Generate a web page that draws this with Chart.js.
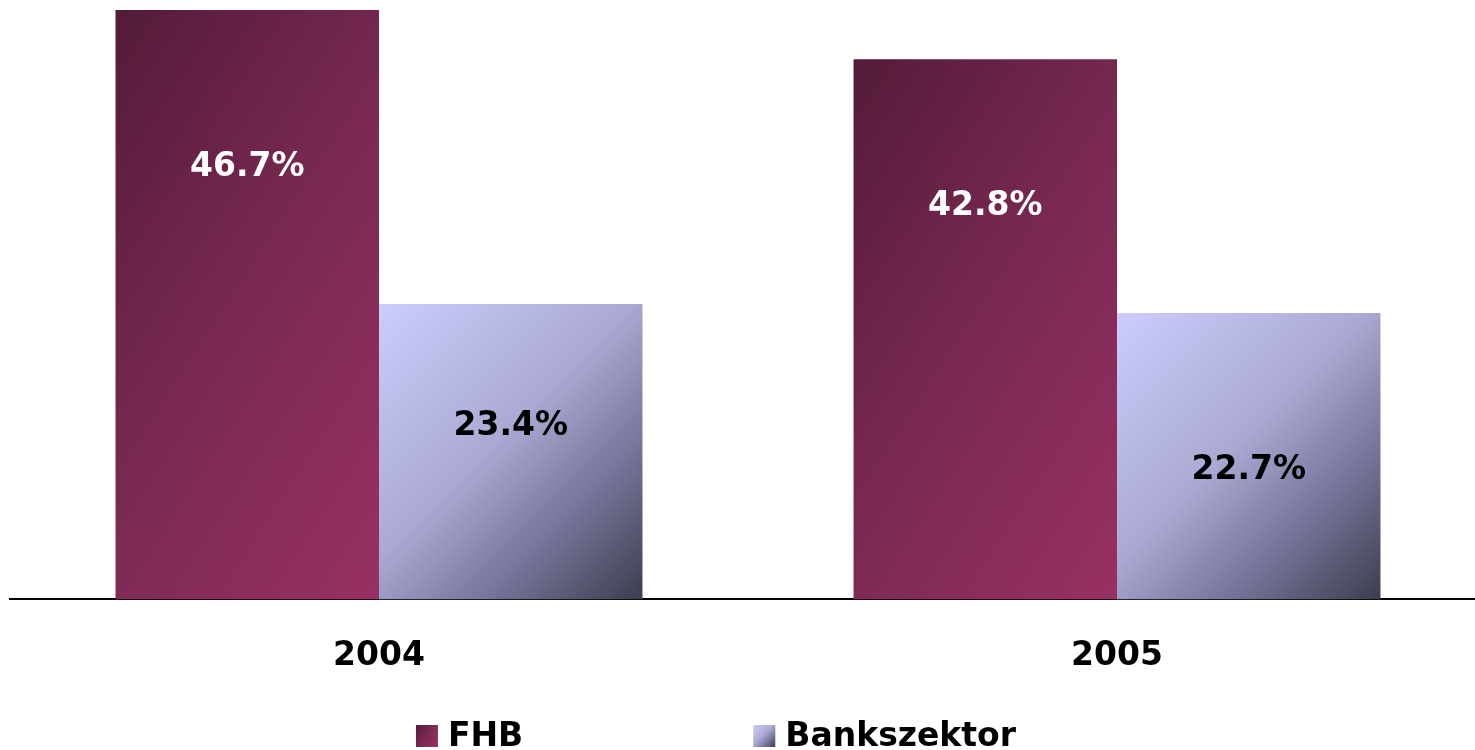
<!DOCTYPE html>
<html>
<head>
<meta charset="utf-8">
<script src="https://cdn.jsdelivr.net/npm/chart.js@4.4.1/dist/chart.umd.min.js"></script>
<style>
  html, body { margin: 0; padding: 0; background: #fff; overflow: hidden; width: 1475px; height: 750px; }
  #wrap { width: 1486px; height: 750px; }
</style>
</head>
<body>
<div id="wrap"><canvas id="c" width="1486" height="750"></canvas></div>
<script>
const categories = ['2004', '2005'];
const seriesNames = ['FHB', 'Bankszektor'];
const fhbValues = [46.7, 42.8];
const bankValues = [23.4, 22.7];
const valueLabels = [['46.7%', '42.8%'], ['23.4%', '22.7%']];

const FONT = '"DejaVu Sans", sans-serif';

// gradient definitions per series: angle (deg) and colour stops
const gradDefs = [
  { angle: 33, stops: [[0, '#541b39'], [0.5, '#7a2953'], [1, '#983064']] },
  { angle: 45, stops: [[0, '#cdcdfd'], [0.45, '#aaaad4'], [0.72, '#75759a'], [1, '#3d3d4e']] }
];

function makeGrad(ctx, left, top, w, h, def) {
  const a = def.angle * Math.PI / 180;
  const dx = Math.cos(a), dy = Math.sin(a);
  const L = w * dx + h * dy;
  const g = ctx.createLinearGradient(left, top, left + dx * L, top + dy * L);
  def.stops.forEach(s => g.addColorStop(s[0], s[1]));
  return g;
}

const gradientBars = {
  id: 'gradientBars',
  beforeDatasetsDraw(chart) {
    const ctx = chart.ctx;
    chart.data.datasets.forEach((ds, di) => {
      const meta = chart.getDatasetMeta(di);
      meta.data.forEach(bar => {
        const left = bar.x - bar.width / 2;
        const top = Math.min(bar.y, bar.base);
        const h = Math.abs(bar.base - bar.y);
        const g = makeGrad(ctx, left, top, bar.width, h, gradDefs[di]);
        bar.options = Object.assign({}, bar.options, { backgroundColor: g });
      });
    });
  }
};

const barLabels = {
  id: 'barLabels',
  afterDatasetsDraw(chart, args, opts) {
    const ctx = chart.ctx;
    ctx.save();
    ctx.font = 'bold 33px ' + FONT;
    ctx.textAlign = 'center';
    ctx.textBaseline = 'middle';
    chart.data.datasets.forEach((ds, di) => {
      const meta = chart.getDatasetMeta(di);
      meta.data.forEach((bar, i) => {
        const y = bar.y + opts.pos[di][i] * (bar.base - bar.y);
        ctx.fillStyle = opts.colors[di];
        ctx.fillText(valueLabels[di][i], bar.x, y + 1);
      });
    });
    ctx.restore();
  }
};

const customLegend = {
  id: 'customLegend',
  afterDraw(chart, args, opts) {
    const ctx = chart.ctx;
    ctx.save();
    ctx.font = 'bold 33px ' + FONT;
    ctx.textBaseline = 'middle';
    ctx.textAlign = 'left';
    const box = opts.box, gapText = opts.gapText, gapItem = opts.gapItem;
    const widths = seriesNames.map(n => box + gapText + ctx.measureText(n).width);
    const total = widths.reduce((a, b) => a + b, 0) + gapItem * (seriesNames.length - 1);
    let x = opts.centerX - total / 2;
    const cy = opts.centerY;
    seriesNames.forEach((n, i) => {
      ctx.fillStyle = makeGrad(ctx, x, cy - box / 2, box, box, gradDefs[i]);
      ctx.fillRect(x, cy - box / 2, box, box);
      ctx.fillStyle = '#000';
      ctx.fillText(n, x + box + gapText, cy + 1);
      x += widths[i] + gapItem;
    });
    ctx.restore();
  }
};

new Chart(document.getElementById('c'), {
  type: 'bar',
  data: {
    labels: categories,
    datasets: [
      { label: seriesNames[0], data: fhbValues, backgroundColor: '#7a2953', borderWidth: 0 },
      { label: seriesNames[1], data: bankValues, backgroundColor: '#aaaad4', borderWidth: 0 }
    ]
  },
  options: {
    responsive: false,
    devicePixelRatio: 1,
    animation: false,
    layout: { padding: { left: 10, right: 0, top: 0, bottom: 37 } },
    datasets: { bar: { barPercentage: 1, categoryPercentage: 0.714 } },
    scales: {
      x: {
        grid: { display: false, drawTicks: false },
        border: { display: true, color: '#000', width: 2 },
        ticks: { color: '#000', font: { family: FONT, size: 33, weight: 'bold' }, padding: 37 }
      },
      y: {
        display: false,
        min: 0,
        max: 47.5
      }
    },
    plugins: {
      legend: { display: false },
      tooltip: { enabled: false },
      barLabels: { pos: [[0.266, 0.271], [0.41, 0.547]], colors: ['#ffffff', '#000000'] },
      customLegend: { box: 22, gapText: 10, gapItem: 230, centerX: 716, centerY: 736 }
    }
  },
  plugins: [gradientBars, barLabels, customLegend]
});
</script>
</body>
</html>
